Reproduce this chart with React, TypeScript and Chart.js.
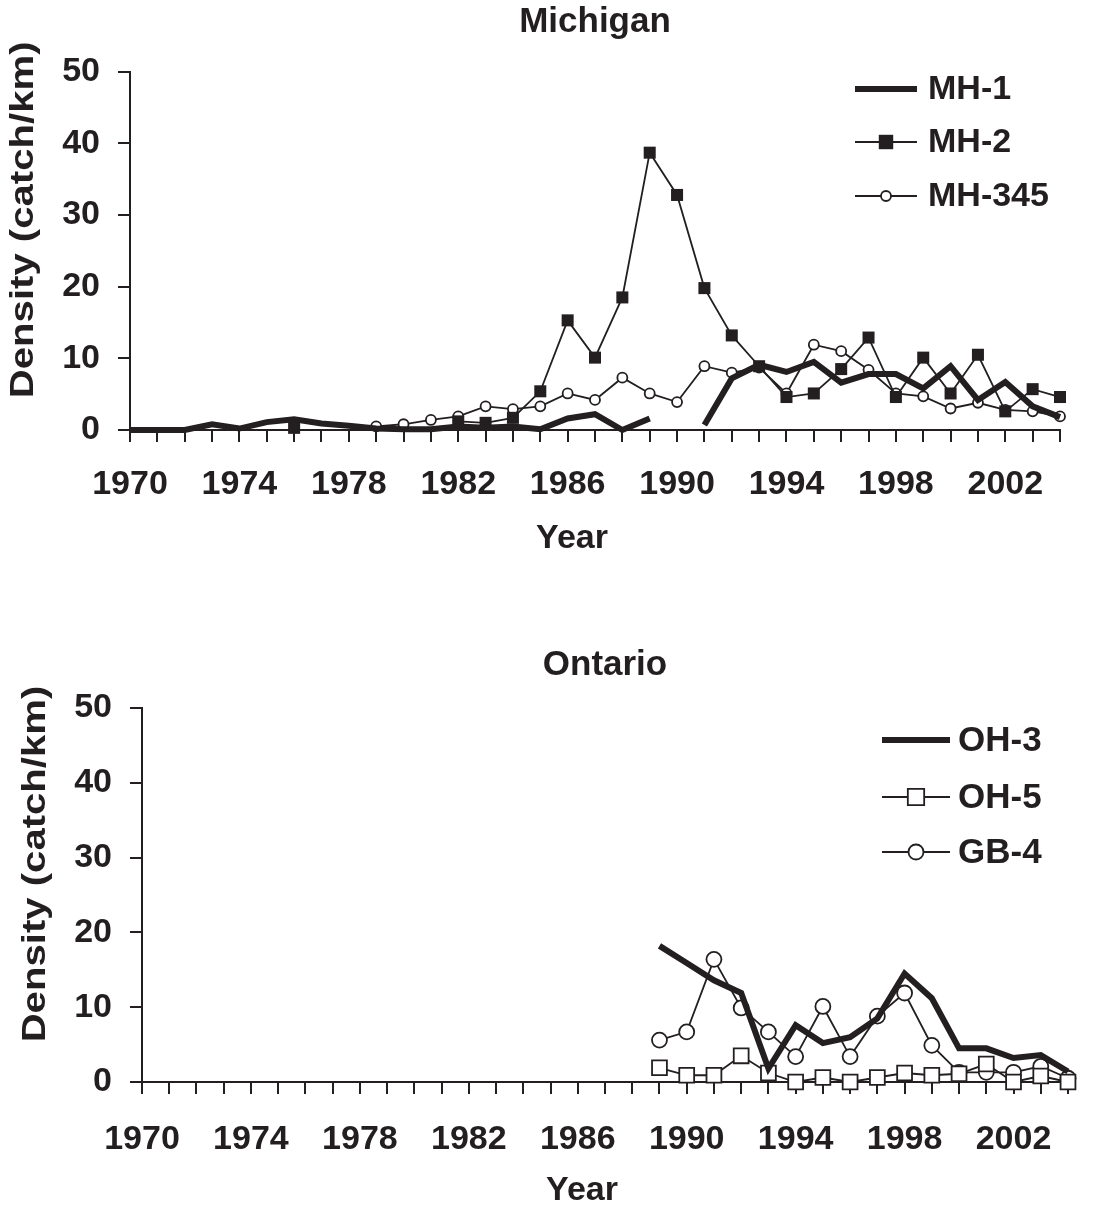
import React, { useEffect, useRef } from 'react';
import { Chart, registerables } from 'chart.js';

Chart.register(...registerables);

// ---------- data ----------
const years = [
  '1970', '1971', '1972', '1973', '1974', '1975', '1976', '1977', '1978', '1979',
  '1980', '1981', '1982', '1983', '1984', '1985', '1986', '1987', '1988', '1989',
  '1990', '1991', '1992', '1993', '1994', '1995', '1996', '1997', '1998', '1999',
  '2000', '2001', '2002', '2003', '2004',
];
const labelledYears = ['1970', '1974', '1978', '1982', '1986', '1990', '1994', '1998', '2002'];

const mh1 = [
  0, 0, 0, 0.8, 0.2, 1.1, 1.5, 0.9, 0.6, 0.2,
  0.1, 0.1, 0.5, 0.3, 0.5, 0.1, 1.6, 2.2, 0.0, 1.6,
  null, 0.7, 7.2, 9.1, 8.1, 9.5, 6.6, 7.8, 7.8, 5.8,
  8.9, 4.2, 6.7, 3.3, 1.8,
];
const mh2 = [
  null, null, null, null, null, null, 0.3, null, null, null,
  null, null, 1.2, 1.0, 1.7, 5.4, 15.3, 10.1, 18.5, 38.7,
  32.8, 19.8, 13.2, 8.9, 4.6, 5.1, 8.5, 12.9, 4.6, 10.1,
  5.1, 10.5, 2.6, 5.7, 4.6,
];
const mh345 = [
  null, null, null, null, null, null, null, null, null, 0.5,
  0.8, 1.4, 1.9, 3.3, 2.9, 3.3, 5.1, 4.2, 7.3, 5.1,
  3.9, 8.9, 8.0, 8.7, 5.1, 11.9, 11.0, 8.4, 5.1, 4.7,
  3.0, 3.8, 2.8, 2.6, 1.9,
];

const oh3 = [
  null, null, null, null, null, null, null, null, null, null,
  null, null, null, null, null, null, null, null, null, 18.2,
  15.9, 13.6, 11.9, 1.8, 7.6, 5.2, 6.0, 8.5, 14.5, 11.2,
  4.5, 4.5, 3.2, 3.6, 1.4,
];
const oh5 = [
  null, null, null, null, null, null, null, null, null, null,
  null, null, null, null, null, null, null, null, null, 1.9,
  0.9, 0.9, 3.5, 1.2, 0.0, 0.6, 0.0, 0.6, 1.2, 0.9,
  1.1, 2.4, 0.0, 0.8, 0.0,
];
const gb4 = [
  null, null, null, null, null, null, null, null, null, null,
  null, null, null, null, null, null, null, null, null, 5.6,
  6.7, 16.4, 9.9, 6.7, 3.4, 10.1, 3.4, 8.8, 11.9, 4.9,
  1.3, 1.3, 1.3, 2.1, 0.5,
];

const Y_MIN = 0;
const Y_MAX = 50;
const Y_STEP = 10;

const TOP_TITLE = 'Michigan';
const BOTTOM_TITLE = 'Ontario';
const X_TITLE = 'Year';
const Y_TITLE = 'Density (catch/km)';

// ---------- styling ----------
const INK = '#231f20';
const FONT = "'Liberation Sans', Arial, Helvetica, sans-serif";

function drawMarker(ctx: CanvasRenderingContext2D, style: string, x: number, y: number, r: number, fill: string, stroke: string, bw: number) {
  ctx.save();
  ctx.beginPath();
  if (style === 'rect') {
    const s = Math.SQRT1_2 * r;
    ctx.rect(x - s, y - s, 2 * s, 2 * s);
  } else {
    ctx.arc(x, y, r, 0, Math.PI * 2);
  }
  ctx.fillStyle = fill;
  ctx.fill();
  if (bw > 0) {
    ctx.lineWidth = bw;
    ctx.strokeStyle = stroke;
    ctx.stroke();
  }
  ctx.restore();
}

function makeLegend(x0: number, x1: number, textX: number, rows: number[], fontSize: number, markerScale: number) {
  return {
    id: 'seriesLegend',
    afterDraw(chart: any) {
      const ctx: CanvasRenderingContext2D = chart.ctx;
      chart.data.datasets.forEach((ds: any, i: number) => {
        const y = rows[i];
        ctx.save();
        ctx.strokeStyle = ds.borderColor;
        ctx.lineWidth = ds.borderWidth;
        ctx.lineCap = 'butt';
        ctx.beginPath();
        ctx.moveTo(x0, y);
        ctx.lineTo(x1, y);
        ctx.stroke();
        if (ds.pointRadius > 0) {
          const r = ds.pointStyle === 'rect' ? ds.pointRadius * markerScale : ds.pointRadius;
          drawMarker(ctx, ds.pointStyle, (x0 + x1) / 2, y, r, ds.pointBackgroundColor, ds.pointBorderColor, ds.pointBorderWidth);
        }
        ctx.fillStyle = INK;
        ctx.font = `bold ${fontSize}px ${FONT}`;
        ctx.textAlign = 'left';
        ctx.textBaseline = 'middle';
        ctx.fillText(ds.label, textX, y + 1);
        ctx.restore();
      });
    },
  };
}

function makeAxisTitles() {
  return {
    id: 'axisTitles',
    afterDraw(chart: any) {
      const ctx: CanvasRenderingContext2D = chart.ctx;
      const ca = chart.chartArea;
      ctx.save();
      ctx.fillStyle = INK;
      ctx.font = `bold 34px ${FONT}`;
      ctx.textAlign = 'center';
      ctx.textBaseline = 'alphabetic';
      ctx.fillText(X_TITLE, (ca.left + ca.right) / 2 - 23, ca.bottom + 118);
      ctx.restore();

      ctx.save();
      ctx.fillStyle = INK;
      ctx.translate(ca.left - 106, (ca.top + ca.bottom) / 2 - 31);
      ctx.rotate(-Math.PI / 2);
      ctx.scale(1.18, 1);
      ctx.font = `bold 34px ${FONT}`;
      ctx.textAlign = 'center';
      ctx.textBaseline = 'middle';
      ctx.fillText(Y_TITLE, 0, 0);
      ctx.restore();
    },
  };
}

type PanelCfg = {
  title: string;
  titlePadTop: number;
  titlePadBottom: number;
  yAxisWidth: number;
  xAxisHeight: number;
  xTickPad: number;
  rightPad: number;
  datasets: any[];
  legend: any;
};

function buildConfig(p: PanelCfg): any {
  const tickFont = { family: FONT, size: 34, weight: 'bold' as const, lineHeight: 1.2 };
  return {
    type: 'line',
    data: { labels: years, datasets: p.datasets },
    options: {
      responsive: false,
      animation: false,
      events: [],
      layout: { padding: { left: 0, right: p.rightPad, top: 0, bottom: 0 } },
      plugins: {
        legend: { display: false },
        tooltip: { enabled: false },
        title: {
          display: true,
          text: p.title,
          fullSize: false,
          color: INK,
          font: { family: FONT, size: 35, weight: 'bold', lineHeight: 1.2 },
          padding: { top: p.titlePadTop, bottom: p.titlePadBottom },
        },
      },
      scales: {
        x: {
          type: 'category',
          offset: false,
          grid: { drawOnChartArea: false, drawTicks: true, tickLength: 12, color: INK, lineWidth: 2, offset: false },
          border: { display: true, color: INK, width: 2 },
          ticks: {
            autoSkip: false,
            maxRotation: 0,
            minRotation: 0,
            padding: p.xTickPad,
            color: INK,
            font: tickFont,
            callback: (_v: any, idx: number) => (labelledYears.includes(years[idx]) ? years[idx] : ''),
          },
          afterFit: (s: any) => {
            s.height = p.xAxisHeight;
          },
        },
        y: {
          min: Y_MIN,
          max: Y_MAX,
          grid: { drawOnChartArea: false, drawTicks: true, tickLength: 12, color: INK, lineWidth: 2 },
          border: { display: true, color: INK, width: 2 },
          ticks: { stepSize: Y_STEP, padding: 18, color: INK, font: tickFont },
          afterFit: (s: any) => {
            s.width = p.yAxisWidth;
          },
        },
      },
    },
    plugins: [p.legend, makeAxisTitles()],
  };
}

const thick = (label: string, data: any[]) => ({
  label,
  data,
  borderColor: INK,
  borderWidth: 6,
  borderJoinStyle: 'miter',
  pointRadius: 0,
  pointHoverRadius: 0,
  pointStyle: 'circle',
  pointBackgroundColor: INK,
  pointBorderColor: INK,
  pointBorderWidth: 0,
  spanGaps: false,
  tension: 0,
  clip: false,
  order: 0,
});

const marked = (label: string, data: any[], style: string, r: number, fill: string, bw: number, order: number) => ({
  label,
  data,
  borderColor: INK,
  borderWidth: 1.8,
  pointStyle: style,
  pointRadius: r,
  pointHoverRadius: r,
  pointBackgroundColor: fill,
  pointBorderColor: INK,
  pointBorderWidth: bw,
  spanGaps: false,
  tension: 0,
  clip: false,
  order,
});

export default function App() {
  const topRef = useRef<HTMLCanvasElement>(null);
  const botRef = useRef<HTMLCanvasElement>(null);

  useEffect(() => {
    const top = new Chart(topRef.current as HTMLCanvasElement, buildConfig({
      title: TOP_TITLE,
      titlePadTop: 1,
      titlePadBottom: 28.7,
      yAxisWidth: 130,
      xAxisHeight: 160,
      xTickPad: 22,
      rightPad: 33,
      datasets: [
        thick('MH-1', mh1),
        marked('MH-2', mh2, 'rect', 8.5, INK, 0, 1),
        marked('MH-345', mh345, 'circle', 5, '#ffffff', 1.8, 2),
      ],
      legend: makeLegend(855, 917, 928, [89, 142, 196], 34, 1.2),
    }));
    const bottom = new Chart(botRef.current as HTMLCanvasElement, buildConfig({
      title: BOTTOM_TITLE,
      titlePadTop: 54,
      titlePadBottom: 22,
      yAxisWidth: 142,
      xAxisHeight: 125,
      xTickPad: 25,
      rightPad: 15,
      datasets: [
        thick('OH-3', oh3),
        marked('OH-5', oh5, 'rect', 10.5, '#ffffff', 1.8, 1),
        marked('GB-4', gb4, 'circle', 7.5, '#ffffff', 1.8, 2),
      ],
      legend: makeLegend(882, 950, 958, [150, 207, 262], 35, 1.1),
    }));
    return () => {
      top.destroy();
      bottom.destroy();
    };
  }, []);

  return (
    <div style={{ position: 'absolute', left: 0, top: 0, width: 1093, height: 1207, overflow: 'hidden', background: '#fff' }}>
      <canvas ref={topRef} width={1093} height={590} style={{ position: 'absolute', left: 0, top: 0, width: 1093, height: 590 }} />
      <canvas ref={botRef} width={1093} height={617} style={{ position: 'absolute', left: 0, top: 590, width: 1093, height: 617 }} />
    </div>
  );
}
